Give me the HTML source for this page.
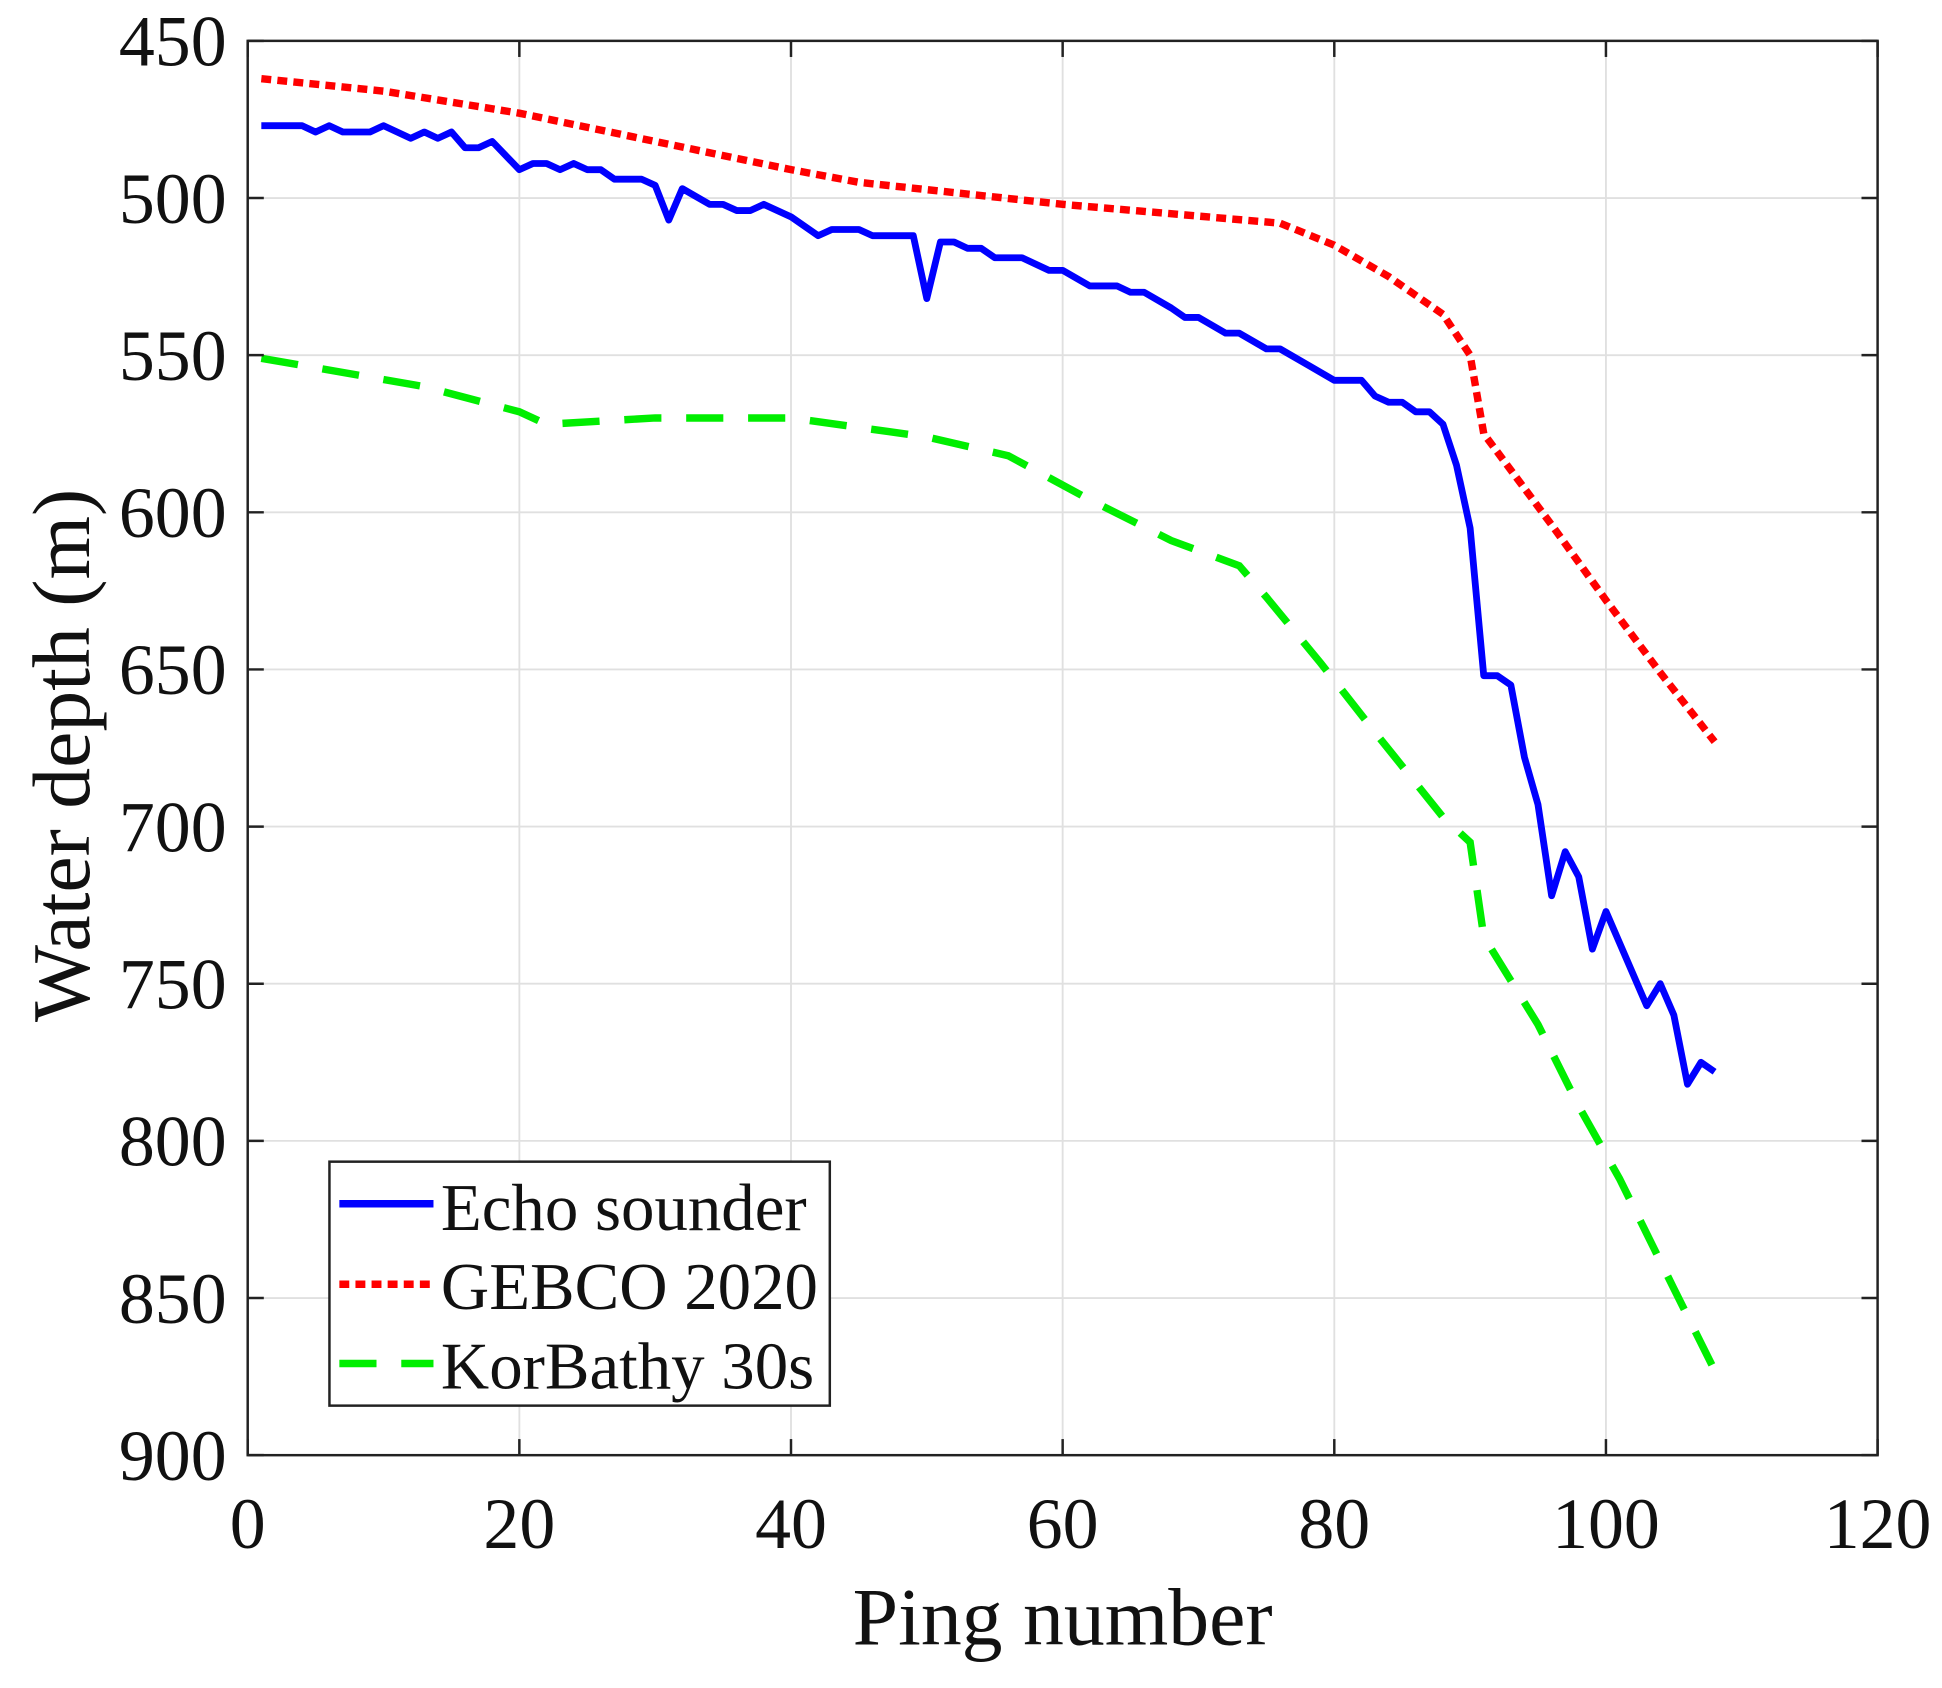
<!DOCTYPE html>
<html><head><meta charset="utf-8"><style>html,body{margin:0;padding:0;background:#fff}svg{display:block}</style></head>
<body>
<svg id="s" width="1942" height="1688" viewBox="0 0 1568 1363" preserveAspectRatio="none" xmlns="http://www.w3.org/2000/svg" font-family="Liberation Serif, serif">
<g id="grid" stroke="#e0e0e0" stroke-width="1.5"></g>
<g id="series"></g>
<rect x="200" y="33" width="1316" height="1142" fill="none" stroke="#222" stroke-width="2"/>
<g id="ticks" stroke="#222" stroke-width="2"></g>
<g id="labels" font-size="58" fill="#111"></g>
<text x="858" y="1328" font-size="66" text-anchor="middle" fill="#111">Ping number</text>
<text transform="translate(72,610) rotate(-90)" font-size="66" text-anchor="middle" fill="#111">Water depth (m)</text>
<rect x="266" y="938" width="404" height="197" fill="#fff" stroke="#222" stroke-width="2"/>
<line x1="274" y1="972" x2="350" y2="972" stroke="#0000ff" stroke-width="6"/>
<line x1="274" y1="1037" x2="350" y2="1037" stroke="#ff0000" stroke-width="6" stroke-dasharray="8,5"/>
<line x1="274" y1="1101" x2="350" y2="1101" stroke="#00ee00" stroke-width="6" stroke-dasharray="30,20"/>
<text x="356" y="993" font-size="54" fill="#111">Echo sounder</text>
<text x="356" y="1057" font-size="54" fill="#111">GEBCO 2020</text>
<text x="356" y="1121" font-size="54" fill="#111">KorBathy 30s</text>
</svg>
<script>
var NS="http://www.w3.org/2000/svg";
function X(v){return 200+v*1316/120}
function Y(d){return 33+(d-450)*1142/450}
function el(p,t,a){var e=document.createElementNS(NS,t);for(var k in a)e.setAttribute(k,a[k]);p.appendChild(e);return e}
var g=document.getElementById('grid'),tk=document.getElementById('ticks'),lb=document.getElementById('labels');
for(var i=0;i<=120;i+=20){var x=X(i);if(i>0&&i<120)el(g,'line',{x1:x,y1:33,x2:x,y2:1175});
el(tk,'line',{x1:x,y1:1175,x2:x,y2:1162});el(tk,'line',{x1:x,y1:33,x2:x,y2:46});
var t=el(lb,'text',{x:x,y:1250,'text-anchor':'middle'});t.textContent=i;}
for(var d=450;d<=900;d+=50){var y=Y(d);if(d>450&&d<900)el(g,'line',{x1:200,y1:y,x2:1516,y2:y});
el(tk,'line',{x1:200,y1:y,x2:213,y2:y});el(tk,'line',{x1:1516,y1:y,x2:1503,y2:y});
var t=el(lb,'text',{x:183,y:y+20,'text-anchor':'end'});t.textContent=d;}
function path(pts){return pts.map(function(p,i){return (i?'L':'M')+X(p[0]).toFixed(1)+' '+Y(p[1]).toFixed(1)}).join('')}
var echo=[[1,477],[2,477],[4,477],[5,479],[6,477],[7,479],[9,479],[10,477],[12,481],[13,479],[14,481],[15,479],[16,484],[17,484],[18,482],[20,491],[21,489],[22,489],[23,491],[24,489],[25,491],[26,491],[27,494],[29,494],[30,496],[31,507],[32,497],[34,502],[35,502],[36,504],[37,504],[38,502],[40,506],[42,512],[43,510],[45,510],[46,512],[49,512],[50,532],[51,514],[52,514],[53,516],[54,516],[55,519],[57,519],[59,523],[60,523],[62,528],[64,528],[65,530],[66,530],[68,535],[69,538],[70,538],[72,543],[73,543],[75,548],[76,548],[78,553],[80,558],[82,558],[83,563],[84,565],[85,565],[86,568],[87,568],[88,572],[89,585],[90,605],[91,652],[92,652],[93,655],[94,678],[95,693],[96,722],[97,708],[98,716],[99,739],[100,727],[103,757],[104,750],[105,760],[106,782],[107,775],[108,778]];
var geb=[[1,462],[10,466],[20,473],[30,482],[40,491],[45,495],[60,502],[76,508],[80,515],[84,525],[88,537],[90,550],[91,575],[96,604],[100,628],[104,651],[108,673]];
var kor=[[1,551],[13,560],[20,568],[22,572],[30,570],[40,570],[50,576],[56,582],[62,596],[68,609],[73,617],[75,627],[79,648],[83,670],[88,697],[90,705],[91,735],[95,763],[98,789],[101,812],[105,847],[108,873]];
var s=document.getElementById('series');
el(s,'path',{d:path(kor),fill:'none',stroke:'#00ee00','stroke-width':6,'stroke-dasharray':'30,20'});
el(s,'path',{d:path(geb),fill:'none',stroke:'#ff0000','stroke-width':6,'stroke-dasharray':'8,5'});
el(s,'path',{d:path(echo),fill:'none',stroke:'#0000ff','stroke-width':5.5,'stroke-linejoin':'round'});
</script>
</body></html>
